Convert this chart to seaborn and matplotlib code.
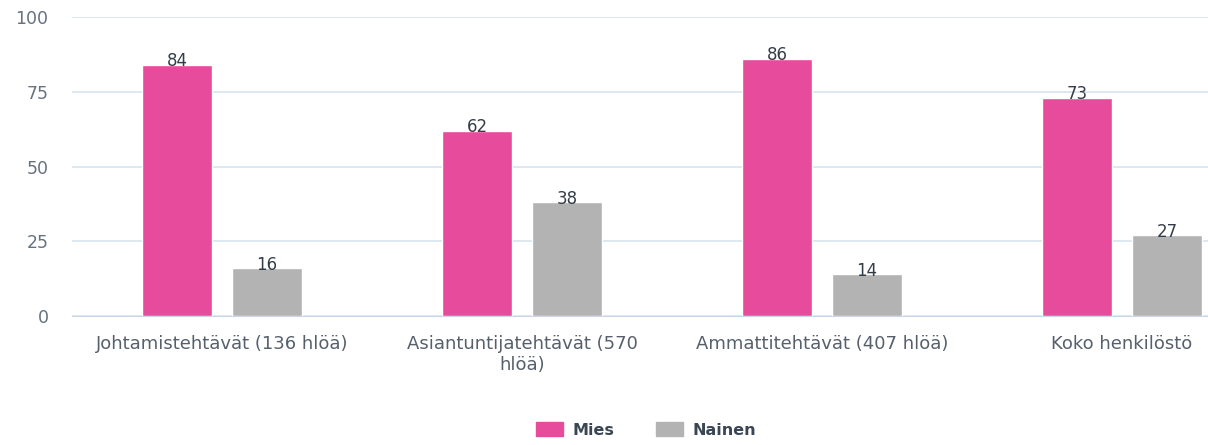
import seaborn as sns
import pandas as pd
import matplotlib.pyplot as plt

categories = ["Johtamistehtävät (136 hlöä)", "Asiantuntijatehtävät (570\nhlöä)",
              "Ammattitehtävät (407 hlöä)", "Koko henkilöstö"]
series = ["Mies", "Nainen"]
mies = [84, 62, 86, 73]
nainen = [16, 38, 14, 27]
colors = ["#e64c9b", "#b3b3b3"]

df = pd.DataFrame({
    "ryhma": categories * 2,
    "sukupuoli": ["Mies"] * 4 + ["Nainen"] * 4,
    "osuus": mies + nainen,
})

sns.set_style("white")
plt.rcParams["font.family"] = ["DejaVu Sans"]

fig = plt.figure(figsize=(12.08, 4.45), dpi=100)
# the plot area runs past the right edge of the picture, like in the original
ax = fig.add_axes([72 / 1208, 1 - 316 / 445, 1200 / 1208, 299 / 445])

sns.barplot(data=df, x="ryhma", y="osuus", hue="sukupuoli", hue_order=series,
            palette=colors, width=0.6, gap=0.22, saturation=1, ax=ax,
            legend=False, zorder=3)

for cont in ax.containers:
    ax.bar_label(cont, fontsize=12, color="#333d48", padding=-4)

ax.set_ylim(0, 100)
ax.set_yticks([0, 25, 50, 75, 100])
ax.set_xlim(-0.5, 3.5)
ax.set_xticks([0.5, 1.5, 2.5], minor=True)
ax.grid(axis="y", color="#d8e4ee", linewidth=1.2, zorder=0)
ax.set_xlabel("")
ax.set_ylabel("")
for s in ["top", "right", "left"]:
    ax.spines[s].set_visible(False)
ax.spines["bottom"].set_color("#ccd6eb")
ax.tick_params(axis="y", length=0, pad=17, labelsize=12.5, labelcolor="#667280")
ax.tick_params(axis="x", which="major", length=0, pad=14, labelsize=13,
               labelcolor="#56606c")
ax.tick_params(axis="x", which="minor", length=9, color="#d8e0ea", width=1.2)

# legend at the bottom
handles = [plt.Rectangle((0, 0), 1, 1, color=c) for c in colors]
leg = fig.legend(handles, series, loc="center", bbox_to_anchor=(0.535, 0.034),
                 ncol=2, frameon=False, handlelength=1.7, handleheight=1.0,
                 handletextpad=0.6, columnspacing=2.6,
                 prop={"weight": "bold", "size": 11.5})
for t in leg.get_texts():
    t.set_color("#3a4654")

fig.savefig("out.png", dpi=100)
